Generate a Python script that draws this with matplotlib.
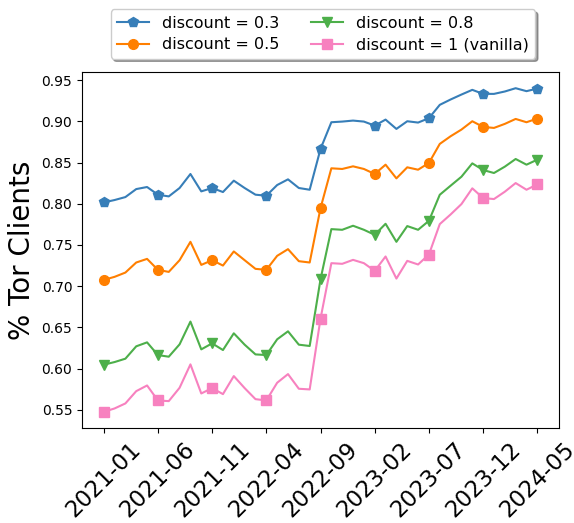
import numpy as np
import matplotlib
matplotlib.use('Agg')
import matplotlib.pyplot as plt

# monthly samples, 2021-01 .. 2024-05
months = [f'{y}-{m:02d}' for y in range(2021, 2025) for m in range(1, 13)][:41]
tick_idx = list(range(0, 41, 5))
tick_labels = [months[i] for i in tick_idx]

d03 = [0.8016, 0.8045, 0.8081, 0.8178, 0.8203, 0.8110, 0.8089, 0.8191, 0.8361, 0.8150,
       0.8191, 0.8142, 0.8280, 0.8191, 0.8110, 0.8097, 0.8227, 0.8296, 0.8191, 0.8170,
       0.8665, 0.8989, 0.8997, 0.9009, 0.8997, 0.8948, 0.9021, 0.8908, 0.9001, 0.8985,
       0.9038, 0.9200, 0.9265, 0.9325, 0.9382, 0.9333, 0.9333, 0.9362, 0.9402, 0.9366,
       0.9398]
d05 = [0.7076, 0.7113, 0.7165, 0.7287, 0.7331, 0.7198, 0.7173, 0.7315, 0.7538, 0.7258,
       0.7315, 0.7250, 0.7421, 0.7315, 0.7210, 0.7198, 0.7368, 0.7449, 0.7303, 0.7287,
       0.7947, 0.8430, 0.8422, 0.8454, 0.8422, 0.8361, 0.8474, 0.8308, 0.8442, 0.8413,
       0.8495, 0.8726, 0.8819, 0.8900, 0.9001, 0.8932, 0.8920, 0.8969, 0.9029, 0.8989,
       0.9034]
d08 = [0.6047, 0.6079, 0.6120, 0.6270, 0.6318, 0.6164, 0.6144, 0.6294, 0.6570, 0.6233,
       0.6306, 0.6225, 0.6428, 0.6290, 0.6172, 0.6164, 0.6355, 0.6452, 0.6290, 0.6274,
       0.7084, 0.7692, 0.7684, 0.7733, 0.7684, 0.7623, 0.7757, 0.7538, 0.7729, 0.7684,
       0.7793, 0.8109, 0.8219, 0.8328, 0.8490, 0.8409, 0.8373, 0.8450, 0.8543, 0.8474,
       0.8535]
d10 = [0.5475, 0.5516, 0.5577, 0.5726, 0.5795, 0.5613, 0.5605, 0.5767, 0.6051, 0.5698,
       0.5763, 0.5690, 0.5909, 0.5763, 0.5629, 0.5613, 0.5828, 0.5933, 0.5755, 0.5747,
       0.6606, 0.7279, 0.7271, 0.7319, 0.7279, 0.7185, 0.7360, 0.7092, 0.7307, 0.7263,
       0.7384, 0.7753, 0.7870, 0.7996, 0.8187, 0.8069, 0.8057, 0.8146, 0.8251, 0.8170,
       0.8235]

series = [
    (d03, 'discount = 0.3', '#377eb8', 'p'),
    (d05, 'discount = 0.5', '#ff7f00', 'o'),
    (d08, 'discount = 0.8', '#4daf4a', 'v'),
    (d10, 'discount = 1 (vanilla)', '#f781bf', 's'),
]

fig = plt.figure(figsize=(5.74, 5.23), dpi=100)
ax = fig.add_axes([0.1429, 0.1816, 0.831, 0.6807])
x = np.arange(len(months))
for vals, label, color, marker in series:
    ax.plot(x, vals, color=color, marker=marker, markevery=5, label=label, markersize=7)

ax.set_xticks(tick_idx)
ax.set_xticklabels(tick_labels, rotation=45, fontsize=16.5)
ax.tick_params(axis='y', labelsize=10)
ax.set_ylabel('% Tor Clients', fontsize=20)
ax.legend(loc='upper center', bbox_to_anchor=(0.505, 1.176), ncol=2, shadow=True,
          fontsize=11.5, labelspacing=0.4, borderaxespad=0)

fig.savefig('out.png', dpi=100)
